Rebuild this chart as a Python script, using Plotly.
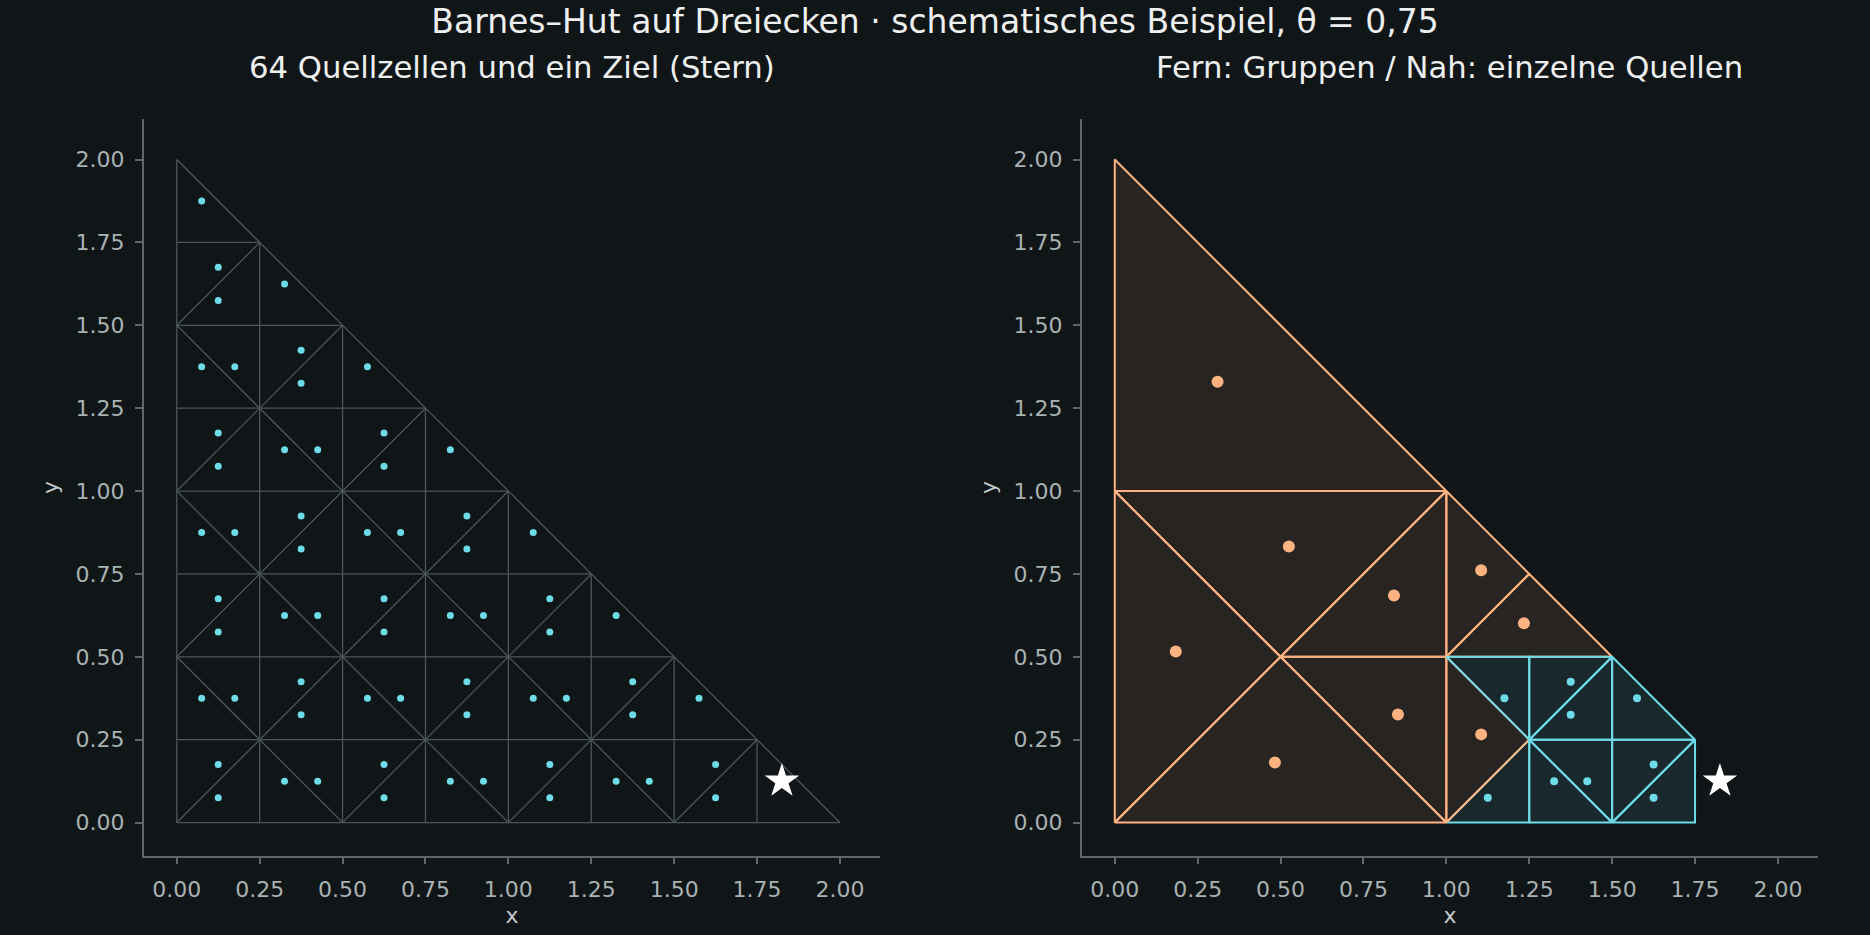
import plotly.graph_objects as go

# --- data -------------------------------------------------------------------
tick_vals = [0.0, 0.25, 0.5, 0.75, 1.0, 1.25, 1.5, 1.75, 2.0]

# mesh edges of the 64 source triangles (left panel)
mesh_x0 = [0, 0, 0, 0, 0, 0, 0, 0,
           0, 0.25, 0.5, 0.75, 1, 1.25, 1.5, 1.75,
           0, 0, 0, 0,
           0, 0, 0, 0, 0.5, 1, 1.5]
mesh_y0 = [0, 0.25, 0.5, 0.75, 1, 1.25, 1.5, 1.75,
           0, 0, 0, 0, 0, 0, 0, 0,
           0.5, 1, 1.5, 2,
           1.5, 1, 0.5, 0, 0, 0, 0]
mesh_x1 = [2, 1.75, 1.5, 1.25, 1, 0.75, 0.5, 0.25,
           0, 0.25, 0.5, 0.75, 1, 1.25, 1.5, 1.75,
           0.5, 1, 1.5, 2,
           0.25, 0.5, 0.75, 1, 1.25, 1.5, 1.75]
mesh_y1 = [0, 0.25, 0.5, 0.75, 1, 1.25, 1.5, 1.75,
           2, 1.75, 1.5, 1.25, 1, 0.75, 0.5, 0.25,
           0, 0, 0, 0,
           1.75, 1.5, 1.25, 1, 0.75, 0.5, 0.25]

# source points (one per cell, target cell excluded)
src_x = [0.125, 0.125, 0.325, 0.425, 0.625, 0.625, 0.825, 0.925, 1.125, 1.125, 1.325, 1.425, 1.625, 1.625,
         0.075, 0.175, 0.375, 0.375, 0.575, 0.675, 0.875, 0.875, 1.075, 1.175, 1.375, 1.375, 1.575,
         0.125, 0.125, 0.325, 0.425, 0.625, 0.625, 0.825, 0.925, 1.125, 1.125, 1.325,
         0.075, 0.175, 0.375, 0.375, 0.575, 0.675, 0.875, 0.875, 1.075,
         0.125, 0.125, 0.325, 0.425, 0.625, 0.625, 0.825,
         0.075, 0.175, 0.375, 0.375, 0.575,
         0.125, 0.125, 0.325,
         0.075]
src_y = [0.175, 0.075, 0.125, 0.125, 0.175, 0.075, 0.125, 0.125, 0.175, 0.075, 0.125, 0.125, 0.175, 0.075,
         0.375, 0.375, 0.425, 0.325, 0.375, 0.375, 0.425, 0.325, 0.375, 0.375, 0.425, 0.325, 0.375,
         0.675, 0.575, 0.625, 0.625, 0.675, 0.575, 0.625, 0.625, 0.675, 0.575, 0.625,
         0.875, 0.875, 0.925, 0.825, 0.875, 0.875, 0.925, 0.825, 0.875,
         1.175, 1.075, 1.125, 1.125, 1.175, 1.075, 1.125,
         1.375, 1.375, 1.425, 1.325, 1.375,
         1.675, 1.575, 1.625,
         1.875]

target_x = [1.825]
target_y = [0.125]

# far field: grouped cells (right panel)
far_polys = [
    [(0, 1), (1, 1), (0, 2)],
    [(0, 1), (1, 1), (0.5, 0.5)],
    [(0, 0), (0, 1), (0.5, 0.5)],
    [(0, 0), (1, 0), (0.5, 0.5)],
    [(0.5, 0.5), (1, 1), (1, 0.5)],
    [(0.5, 0.5), (1, 0.5), (1, 0)],
    [(1, 0.5), (1.25, 0.75), (1, 1)],
    [(1, 0.5), (1.5, 0.5), (1.25, 0.75)],
    [(1, 0), (1, 0.5), (1.25, 0.25)],
]
far_cx = [0.31, 0.525, 0.184, 0.483, 0.842, 0.854, 1.105, 1.234, 1.105]
far_cy = [1.33, 0.833, 0.516, 0.181, 0.685, 0.326, 0.761, 0.601, 0.266]

# near field: single source cells
near_polys = [
    [(1, 0), (1.25, 0), (1.25, 0.25)],
    [(1, 0.5), (1.25, 0.5), (1.25, 0.25)],
    [(1.25, 0.25), (1.5, 0.5), (1.25, 0.5)],
    [(1.25, 0.25), (1.5, 0.25), (1.5, 0.5)],
    [(1.5, 0.25), (1.75, 0.25), (1.5, 0.5)],
    [(1.25, 0), (1.5, 0), (1.25, 0.25)],
    [(1.5, 0), (1.5, 0.25), (1.25, 0.25)],
    [(1.5, 0), (1.75, 0.25), (1.5, 0.25)],
    [(1.5, 0), (1.75, 0), (1.75, 0.25)],
]
near_x = [1.125, 1.175, 1.375, 1.375, 1.575, 1.325, 1.425, 1.625, 1.625]
near_y = [0.075, 0.375, 0.425, 0.325, 0.375, 0.125, 0.125, 0.175, 0.075]

# --- style ------------------------------------------------------------------
BG = "#101518"
MESH = "#4c5658"
SPINE = "#5d676a"
TICK_TXT = "#a9b2b2"
LABEL_TXT = "#c3caca"
CYAN = "#6ddbe8"
ORANGE = "#ffb380"
FONT = "DejaVu Sans"


def closed(poly):
    xs = [p[0] for p in poly] + [poly[0][0]]
    ys = [p[1] for p in poly] + [poly[0][1]]
    return xs, ys


def joined(polys):
    xs, ys = [], []
    for p in polys:
        px, py = closed(p)
        xs += px + [None]
        ys += py + [None]
    return xs, ys


fig = go.Figure()

# left panel: mesh
mx, my = [], []
for a, b, c, d in zip(mesh_x0, mesh_y0, mesh_x1, mesh_y1):
    mx += [a, c, None]
    my += [b, d, None]
fig.add_trace(go.Scatter(x=mx, y=my, mode="lines", line=dict(color=MESH, width=1.3),
                         hoverinfo="skip", xaxis="x", yaxis="y"))
fig.add_trace(go.Scatter(x=src_x, y=src_y, mode="markers",
                         marker=dict(color=CYAN, size=7), xaxis="x", yaxis="y"))
fig.add_trace(go.Scatter(x=target_x, y=target_y, mode="markers",
                         marker=dict(symbol="star", color="white", size=26, line=dict(width=0)),
                         xaxis="x", yaxis="y"))

# right panel: fills
fx, fy = joined(far_polys)
fig.add_trace(go.Scatter(x=fx, y=fy, mode="lines", fill="toself", fillcolor="rgba(255,179,128,0.1)",
                         line=dict(width=0), hoverinfo="skip", xaxis="x2", yaxis="y2"))
nx, ny = joined(near_polys)
fig.add_trace(go.Scatter(x=nx, y=ny, mode="lines", fill="toself", fillcolor="rgba(109,219,232,0.1)",
                         line=dict(width=0), hoverinfo="skip", xaxis="x2", yaxis="y2"))

# outlines, in tree order (last far group sits between the near cells)
outline_order = [(p, ORANGE) for p in far_polys[:8]] + [(near_polys[0], CYAN), (far_polys[8], ORANGE)] \
    + [(p, CYAN) for p in near_polys[1:]]
for poly, col in outline_order:
    px, py = closed(poly)
    fig.add_trace(go.Scatter(x=px, y=py, mode="lines", line=dict(color=col, width=2),
                             hoverinfo="skip", xaxis="x2", yaxis="y2"))

fig.add_trace(go.Scatter(x=far_cx, y=far_cy, mode="markers",
                         marker=dict(color=ORANGE, size=12), xaxis="x2", yaxis="y2"))
fig.add_trace(go.Scatter(x=near_x, y=near_y, mode="markers",
                         marker=dict(color=CYAN, size=8), xaxis="x2", yaxis="y2"))
fig.add_trace(go.Scatter(x=target_x, y=target_y, mode="markers",
                         marker=dict(symbol="star", color="white", size=26, line=dict(width=0)),
                         xaxis="x2", yaxis="y2"))

axis_style = dict(
    range=[-0.1, 2.122], tickvals=tick_vals, tickformat=".2f",
    ticks="outside", ticklen=7, tickwidth=1.5, tickcolor=SPINE,
    showline=True, linecolor=SPINE, linewidth=1.5, mirror=False,
    showgrid=False, zeroline=False, ticklabelstandoff=6,
    tickfont=dict(family=FONT, size=22, color=TICK_TXT),
)
xlab = dict(text="x", standoff=7, font=dict(family=FONT, size=22, color=LABEL_TXT))
ylab = dict(text="y", standoff=11, font=dict(family=FONT, size=22, color=LABEL_TXT))
ydom = [0.0848, 0.8726]
x1dom = [0.0768, 0.4708]
x2dom = [0.5784, 0.9724]
fig.update_layout(
    width=1870, height=935, autosize=False,
    margin=dict(l=0, r=0, t=0, b=0),
    paper_bgcolor=BG, plot_bgcolor=BG,
    showlegend=False,
    font=dict(family=FONT, color="#e8eaea"),
    title=dict(text="Barnes–Hut auf Dreiecken · schematisches Beispiel, θ = 0,75",
               x=0.5, xanchor="center", y=0.9775, yanchor="middle",
               font=dict(family=FONT, size=33, color="#eef0f0")),
    xaxis=dict(axis_style, domain=x1dom, anchor="y", title=xlab),
    yaxis=dict(axis_style, domain=ydom, anchor="x", title=ylab),
    xaxis2=dict(axis_style, domain=x2dom, anchor="y2", title=xlab),
    yaxis2=dict(axis_style, domain=ydom, anchor="x2", title=ylab),
    annotations=[
        dict(text="64 Quellzellen und ein Ziel (Stern)", x=sum(x1dom) / 2, y=0.928,
             xref="paper", yref="paper", xanchor="center", yanchor="middle", showarrow=False,
             font=dict(family=FONT, size=30.7, color="#eef0f0")),
        dict(text="Fern: Gruppen / Nah: einzelne Quellen", x=sum(x2dom) / 2, y=0.928,
             xref="paper", yref="paper", xanchor="center", yanchor="middle", showarrow=False,
             font=dict(family=FONT, size=30.7, color="#eef0f0")),
    ],
)

fig.write_html("out.html", config={"displayModeBar": False},
               post_script="document.body.style.margin='0';")
